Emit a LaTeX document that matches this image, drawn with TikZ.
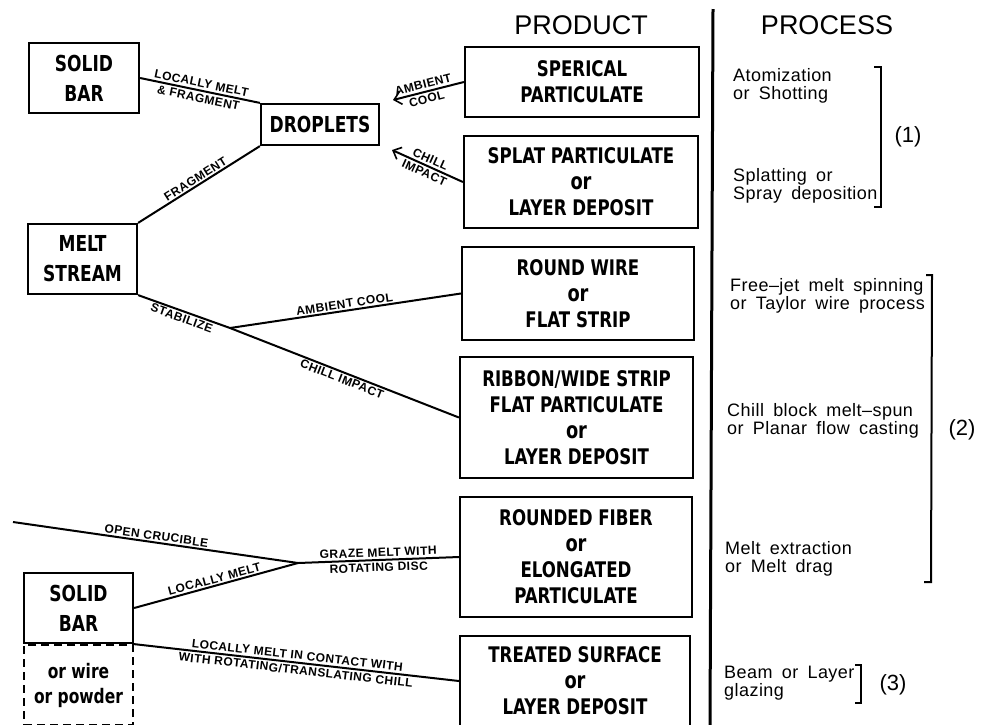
\documentclass[tikz,border=0pt]{standalone}
\usepackage{fontspec}
\usepackage{tikz}
\usetikzlibrary{arrows.meta,positioning}
\newfontfamily\boxfont[FakeStretch=0.86]{DejaVu Sans Condensed}
\newfontfamily\lblfont[LetterSpace=4]{Liberation Sans}
\newfontfamily\procfont[LetterSpace=2.5,WordSpace=1.7]{Liberation Sans}
\newfontfamily\headfont{Liberation Sans}
\newcommand{\orword}{{\fontsize{23}{26}\selectfont or}}
\tikzset{bigbox/.style={draw,line width=2.2pt,inner sep=0pt,align=center,font=\boxfont\bfseries\fontsize{22}{30}\selectfont}}
\tikzset{prodbox/.style={draw,line width=2.2pt,inner sep=0pt,align=center,font=\boxfont\bfseries\fontsize{21.5}{26}\selectfont}}
\tikzset{link/.style={line width=2pt}}
\tikzset{barb/.style={arrows={Straight Barb[length=7pt,width=13pt,line width=1.6pt]-}}}
\tikzset{lbl/.style={font=\lblfont\bfseries\fontsize{12}{15}\selectfont,inner sep=1.5pt,sloped}}
\tikzset{proc/.style={font=\procfont\fontsize{18}{18}\selectfont,align=left,anchor=west,inner sep=0pt}}
\tikzset{head/.style={font=\headfont\fontsize{27}{29}\selectfont}}
\tikzset{tagnum/.style={font=\headfont\fontsize{22}{24}\selectfont}}
\tikzset{brk/.style={line width=2pt}}

\begin{document}
\begin{tikzpicture}[x=1pt,y=1pt]
\useasboundingbox (0,0) rectangle (992,-724);
%\draw[step=50,lightgray,very thin] (0,-724) grid (992,0);
% left side
\node[bigbox,minimum width=110pt,minimum height=70pt] (solidA) at (84,-78) {SOLID\\BAR};
\node[bigbox,minimum width=118pt,minimum height=41pt] (drop) at (320,-124.5) {DROPLETS};
\node[bigbox,minimum width=109pt,minimum height=70pt] (meltA) at (82.5,-259) {MELT\\STREAM};
\node[bigbox,minimum width=109pt,minimum height=70pt] (solidB) at (78.5,-608) {SOLID\\BAR};
\node[bigbox,dash pattern=on 8pt off 5pt,minimum width=109pt,minimum height=80pt,font=\boxfont\bfseries\fontsize{20}{25}\selectfont,below=0pt of solidB] (wire) {or wire\\or powder};
\coordinate (j1) at (230,-328);
\coordinate (j2) at (298,-563);
\coordinate (c0) at (13,-522);
\coordinate (sphtip) at (393,-100);
\coordinate (splattip) at (392,-150);
% products
\node[head] (prodhead) at (581,-25) {PRODUCT};
\node[prodbox,minimum width=234pt,minimum height=70pt] (sph) at (582,-82) {SPERICAL\\PARTICULATE};
\node[prodbox,minimum width=234pt,minimum height=92pt] (splat) at (581,-182) {SPLAT PARTICULATE\\\orword\\LAYER DEPOSIT};
\node[prodbox,minimum width=232pt,minimum height=93pt] (round) at (578,-293.5) {ROUND WIRE\\\orword\\FLAT STRIP};
\node[prodbox,minimum width=233pt,minimum height=121pt] (ribbon) at (576.5,-417.5) {RIBBON/WIDE STRIP\\FLAT PARTICULATE\\\orword\\LAYER DEPOSIT};
\node[prodbox,minimum width=232pt,minimum height=120pt] (fiber) at (576,-557) {ROUNDED FIBER\\\orword\\ELONGATED\\PARTICULATE};
\node[prodbox,minimum width=230pt,minimum height=90pt] (treated) at (575,-681) {TREATED SURFACE\\\orword\\LAYER DEPOSIT};
% connectors
\draw[link] (solidA.east) -- node[lbl,align=center] {LOCALLY MELT\\\& FRAGMENT} (drop.north west);
\draw[link] (meltA.north east) -- node[lbl,above] {FRAGMENT} (drop.south west);
\draw[link,barb] (sphtip) -- node[lbl,align=center,pos=0.45] {AMBIENT\\COOL} (sph.west);
\draw[link,barb] (splattip) -- node[lbl,align=center,pos=0.5] {CHILL\\IMPACT} (splat.west);
\draw[link] (meltA.south east) -- node[lbl,below] {STABILIZE} (j1) -- node[lbl,below] {CHILL IMPACT} (ribbon.west);
\draw[link] (j1) -- node[lbl,above] {AMBIENT COOL} (round.west);
\draw[link] (c0) -- node[lbl,above] {OPEN CRUCIBLE} (j2) -- node[lbl,align=center] {GRAZE MELT WITH\\ROTATING DISC} (fiber.west);
\draw[link] (solidB.east) -- node[lbl,above] {LOCALLY MELT} (j2);
\draw[link] (solidB.south east) -- node[lbl,align=center] {LOCALLY MELT IN CONTACT WITH\\WITH ROTATING/TRANSLATING CHILL} (treated.west);
% process column
\draw[line width=3pt] (713,-9) -- (710,-726);
\node[head] (prochead) at (827,-25) {PROCESS};
\node[proc] (atom) at (733,-86) {Atomization\\or Shotting};
\node[proc] (spray) at (733,-186) {Splatting or\\Spray deposition};
\node[proc] (freejet) at (730,-296) {Free–jet melt spinning\\or Taylor wire process};
\node[proc] (chill) at (727,-421) {Chill block melt–spun\\or Planar flow casting};
\node[proc] (extr) at (725,-559) {Melt extraction\\or Melt drag};
\node[proc] (glaze) at (724,-683) {Beam or Layer\\glazing};
\draw[brk] (874,-67) -- (881,-67) -- (881,-207) -- (874,-207);
\draw[brk] (926,-275) -- (932,-275) -- (931,-582) -- (924,-582);
\draw[brk] (855,-665) -- (861,-665) -- (861,-703) -- (855,-703);
\node[tagnum] (tag1) at (908,-137) {(1)};
\node[tagnum] (tag2) at (962,-430) {(2)};
\node[tagnum] (tag3) at (893,-685) {(3)};
\end{tikzpicture}
\end{document}
